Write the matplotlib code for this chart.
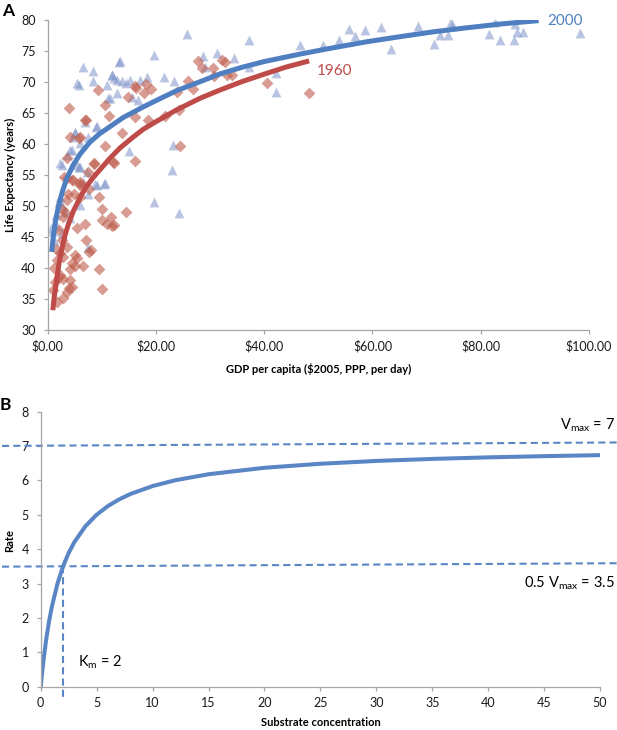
import matplotlib
matplotlib.use("Agg")
import matplotlib.pyplot as plt

plt.rcParams['font.family'] = ['Lato', 'DejaVu Sans']
plt.rcParams['mathtext.fontset'] = 'custom'
plt.rcParams['mathtext.rm'] = 'Lato'
plt.rcParams['mathtext.it'] = 'Lato:italic'

######################################################################
# Data, panel A
######################################################################

gdp_2000 = [25.7, 37.2, 13.3, 6.6, 19.6, 28.7, 31.3, 34.4, 29.0, 37.2, 42.1, 42.1,
            8.3, 11.9, 12.2, 12.8, 13.7, 14.5, 15.2, 17.1, 18.3, 21.4, 10.9, 11.5,
            12.8, 15.6, 16.6, 23.3, 5.7, 6.9, 9.1, 5.1, 7.5, 6.0, 4.1, 3.5, 2.3, 5.4,
            6.0, 15.1, 23.1, 23.0, 24.2, 19.6, 10.6, 9.1, 7.2, 2.0, 2.6, 0.7, 1.7,
            2.6, 3.2, 4.1, 7.5, 7.5, 6.6, 6.0, 5.5, 8.3, 11.8, 13.1, 11.2, 8.9, 5.0,
            4.7, 4.4, 2.6, 5.8, 10.4, 8.7, 1.2, 1.0, 1.5, 2.2,
            50.9, 53.9, 55.6, 56.7, 58.7, 61.6, 63.4, 68.4, 71.3, 72.5, 74.0, 74.5,
            74.7, 81.6, 82.7, 83.6, 86.1, 86.7, 87.8, 86.4, 98.3, 46.6]
life_2000 = [77.8, 76.8, 73.4, 72.5, 74.4, 74.2, 74.6, 73.8, 72.5, 72.5, 68.4, 71.4,
             71.7, 71.1, 70.6, 70.3, 70.1, 69.8, 70.3, 70.3, 70.8, 70.8, 69.5, 67.4,
             68.2, 67.6, 67.1, 70.1, 69.5, 63.6, 62.9, 61.7, 61.2, 60.1, 59.0, 58.2,
             56.9, 56.6, 56.3, 58.8, 59.8, 55.8, 48.8, 50.7, 53.7, 53.4, 55.5, 50.7,
             50.2, 46.4, 46.7, 45.6, 49.1, 48.0, 43.4, 52.0, 53.9, 50.1, 69.8, 70.2,
             71.1, 73.3, 67.4, 62.7, 62.0, 61.2, 59.0, 56.6, 56.3, 53.5, 53.5, 44.5,
             46.0, 48.5, 51.5,
             76.0, 76.8, 78.5, 77.4, 78.4, 78.9, 75.3, 79.0, 76.2, 77.6, 77.6, 79.6,
             79.0, 77.7, 79.6, 76.7, 76.8, 78.1, 78.1, 79.4, 77.9, 76.0]

gdp_1960 = [4.0, 9.3, 10.5, 11.4, 10.6, 12.2, 13.7, 14.9, 16.2, 16.4, 16.2, 16.2,
            18.1, 17.8, 19.1, 18.6, 21.6, 23.9, 24.2, 24.5, 26.0, 26.9, 27.8, 28.5,
            30.6, 30.7, 32.2, 32.8, 33.1, 34.1, 40.6, 48.3, 4.1, 5.9, 6.9, 3.5, 3.5,
            4.4, 5.9, 6.0, 7.5, 8.6, 7.7, 4.8, 6.0, 9.4, 10.0, 10.0, 10.9, 11.9,
            12.3, 11.7, 14.5, 6.9, 5.5, 7.1, 7.7, 8.0, 5.1, 5.4, 4.4, 5.1, 6.5, 4.1,
            9.4, 10.0, 2.9, 3.5, 3.9, 4.1, 2.9, 2.0, 1.4, 2.3, 2.9, 3.5, 2.3, 1.8,
            2.6, 2.0, 2.9, 3.2, 2.6, 3.5, 3.8, 1.8, 1.0, 4.4, 7.1, 5.8, 8.6, 12.1,
            3.0, 4.7, 6.0, 1.2, 1.5]
life_1960 = [65.8, 68.7, 66.3, 64.5, 59.7, 57.0, 61.7, 67.6, 69.4, 69.0, 64.4, 57.2,
             69.7, 68.2, 68.8, 63.8, 64.5, 68.4, 65.5, 59.6, 70.1, 68.8, 73.4, 72.2,
             72.2, 71.0, 73.5, 73.3, 71.1, 71.1, 69.9, 68.2, 61.2, 61.2, 63.9, 57.7,
             54.5, 54.2, 53.9, 53.4, 55.5, 56.9, 52.8, 52.0, 51.5, 51.5, 49.5, 47.8,
             47.1, 46.8, 46.9, 48.3, 49.1, 47.1, 46.4, 44.6, 42.6, 42.9, 42.1, 41.6,
             40.8, 40.3, 40.3, 39.9, 39.8, 36.6, 35.1, 36.2, 36.7, 38.1, 38.3, 38.6,
             37.8, 38.9, 41.8, 43.4, 42.4, 41.3, 44.5, 46.1, 48.3, 49.1, 49.6, 51.0,
             52.0, 34.6, 36.5, 37.0, 63.9, 60.9, 56.8, 57.1, 54.7, 54.2, 53.5, 40.0,
             43.0]

# trend lines
trend_x_2000 = [0.74, 1.0, 1.4, 2.0, 2.7, 3.5, 4.7, 6.0, 7.8, 9.5, 11.5, 14.0, 17.7,
                20.0, 23.8, 28.0, 31.8, 36.0, 40.0, 46.6, 52.0, 59.0, 65.0, 71.3,
                77.0, 83.6, 90.7]
trend_y_2000 = [42.6, 44.8, 47.4, 50.0, 52.3, 54.4, 56.6, 58.4, 60.3, 61.6, 62.8,
                64.3, 66.0, 67.0, 68.6, 70.0, 71.3, 72.4, 73.3, 74.5, 75.4, 76.5,
                77.3, 78.1, 78.7, 79.35, 79.9]
trend_x_1960 = [0.95, 1.2, 1.66, 2.1, 2.6, 3.2, 3.8, 4.8, 6.0, 7.2, 8.4, 9.7, 11.5,
                13.4, 15.9, 17.7, 20.0, 23.8, 28.2, 31.8, 36.0, 40.1, 44.0, 48.3]
trend_y_1960 = [33.2, 35.3, 38.1, 40.8, 43.0, 45.3, 47.0, 49.3, 51.4, 53.2, 54.6,
                55.9, 57.7, 59.4, 61.2, 62.4, 63.6, 65.5, 67.4, 68.7, 70.1, 71.3,
                72.4, 73.4]

gdp_ticks = [0, 20, 40, 60, 80, 100]
gdp_labels = ['$0.00', '$20.00', '$40.00', '$60.00', '$80.00', '$100.00']
life_ticks = [30, 35, 40, 45, 50, 55, 60, 65, 70, 75, 80]

######################################################################
# Data, panel B
######################################################################

substrate = [0, 0.1, 0.25, 0.5, 0.75, 1, 1.5, 2, 2.5, 3, 4, 5, 6, 7, 8, 10, 12,
             15, 20, 25, 30, 35, 40, 45, 50]
rate = [0, 0.333, 0.778, 1.4, 1.909, 2.333, 3.0, 3.5, 3.889, 4.2, 4.667, 5.0,
        5.25, 5.444, 5.6, 5.833, 6.0, 6.176, 6.364, 6.481, 6.563, 6.622, 6.667,
        6.702, 6.731]
vmax_line_x = [-3.46, 51.6]
vmax_line_y = [7.0, 7.1]
half_line_x = [-3.46, 51.6]
half_line_y = [3.49, 3.59]
km_line_x = [2.0, 2.0]
km_line_y = [3.5, -0.34]

######################################################################
# Figure
######################################################################

blue = '#4F7FC0'
red = '#BE4B48'
gray = '#A6A6A6'

fig = plt.figure(figsize=(6.17, 7.3), dpi=100)

def style_axes(ax):
    for side in ['top', 'right']:
        ax.spines[side].set_visible(False)
    for side in ['left', 'bottom']:
        ax.spines[side].set_color(gray)
        ax.spines[side].set_linewidth(0.9)
    ax.tick_params(direction='out', length=3, width=0.9, color=gray,
                   labelsize=9, labelcolor='#1a1a1a')
    ax.tick_params(axis='y', pad=5.5)
    ax.tick_params(axis='x', pad=4.5)

#Panel A
axA = fig.add_axes([0.0773, 0.5479, 0.8773, 0.4247])
style_axes(axA)
axA.scatter(gdp_2000, life_2000, marker='^', s=50, color='#7E95C9', alpha=0.55,
            linewidths=0)
axA.scatter(gdp_1960, life_1960, marker='D', s=36, color='#C0604F', alpha=0.62,
            linewidths=0)
axA.plot(trend_x_2000, trend_y_2000, color=blue, lw=3.6, solid_capstyle='butt',
         solid_joinstyle='round')
axA.plot(trend_x_1960, trend_y_1960, color=red, lw=3.6, solid_capstyle='butt',
         solid_joinstyle='round')
axA.set_xlim(0, 100)
axA.set_ylim(30, 80)
axA.set_xticks(gdp_ticks)
axA.set_xticklabels(gdp_labels)
axA.set_yticks(life_ticks)
axA.set_xlabel('GDP per capita ($2005, PPP, per day)', fontsize=8, fontweight='bold',
               labelpad=7)
axA.set_ylabel('Life Expectancy (years)', fontsize=8, fontweight='bold')
axA.yaxis.set_label_coords(-0.058, 0.5)
axA.text(92.3, 79.9, '2000', color=blue, fontsize=11, ha='left', va='center',
         clip_on=False)
axA.text(49.8, 71.8, '1960', color=red, fontsize=11, ha='left', va='center')
fig.text(0.003, 0.985, 'A', fontsize=12.5, fontweight='bold', ha='left', va='center')

#Panel B
axB = fig.add_axes([0.0660, 0.0593, 0.9065, 0.3770])
style_axes(axB)
axB.plot(substrate, rate, color='#5A86C5', lw=2.9, solid_joinstyle='round')
for lx, ly in [(vmax_line_x, vmax_line_y), (half_line_x, half_line_y),
               (km_line_x, km_line_y)]:
    axB.plot(lx, ly, color='#5A86C5', lw=1.5, dashes=(3.4, 2.0), clip_on=False)
axB.set_xlim(0, 50)
axB.set_ylim(0, 8)
axB.set_xticks(range(0, 51, 5))
axB.set_yticks(range(0, 9))
axB.set_xlabel('Substrate concentration', fontsize=8, fontweight='bold', labelpad=6)
axB.set_ylabel('Rate', fontsize=8, fontweight='bold')
axB.yaxis.set_label_coords(-0.045, 0.53)
axB.text(51.35, 7.61, r'V$_{\mathrm{max}}$ = 7', fontsize=10.5, ha='right',
         va='center', clip_on=False)
axB.text(51.35, 3.02, r'0.5 V$_{\mathrm{max}}$ = 3.5', fontsize=10.5, ha='right',
         va='center', clip_on=False)
axB.text(3.33, 0.70, r'K$_{\mathrm{m}}$ = 2', fontsize=10.5, ha='left', va='center')
fig.text(0.0, 0.445, 'B', fontsize=12.5, fontweight='bold', ha='left', va='center')

fig.savefig('out.png', dpi=100)
